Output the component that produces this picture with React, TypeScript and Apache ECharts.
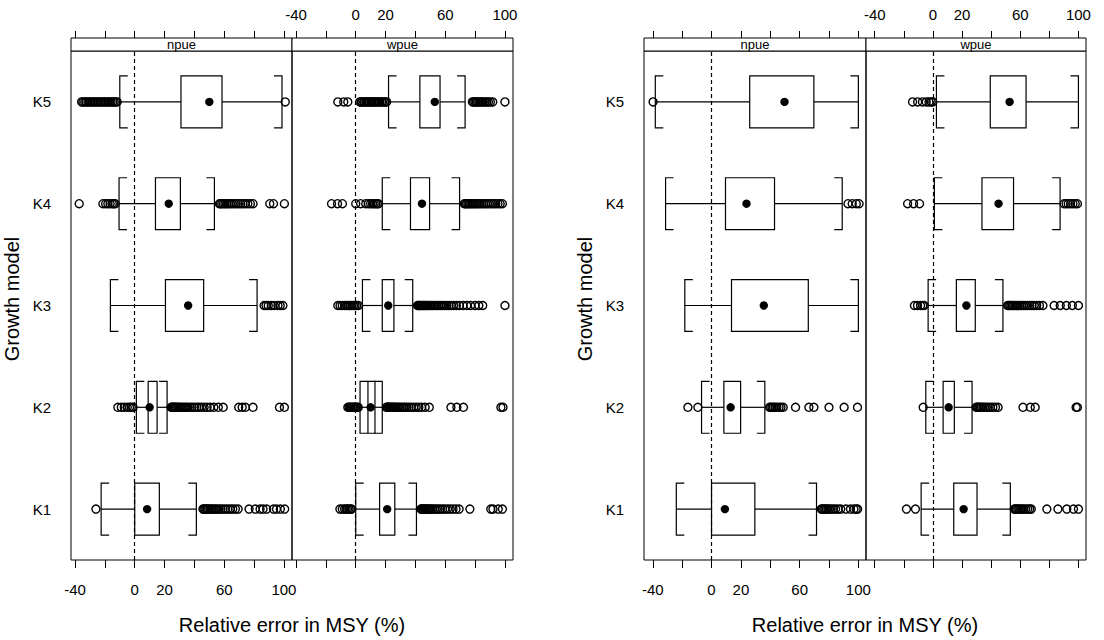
import React, { useEffect, useRef } from "react";
import * as echarts from "echarts";

// ---------------- data ----------------
const categories = ["K1", "K2", "K3", "K4", "K5"];
const panelNames = ["npue", "wpue"];
const tickValues = [-40, -20, 0, 20, 40, 60, 80, 100];
const labelValues = [-40, 0, 20, 60, 100];
const xTitle = "Relative error in MSY (%)";
const yTitle = "Growth model";

// [lower whisker, Q1, median, Q3, upper whisker] for K1..K5
const figA_npue_box = [
  [-22.5, 0, 8.3, 16.5, 41.3],
  [1.1, 9, 10, 15, 21.7],
  [-16.3, 20.6, 35.8, 46.2, 82],
  [-10.5, 13.9, 22.8, 30.6, 53.4],
  [-10, 31, 50, 58.5, 98.7],
];
const figA_npue_out = [
  [-26, 45.7, 46.3, 47, 47.8, 48.6, 49.5, 50.5, 51.5, 52.6, 53.8, 55, 56.3, 57.7, 59.2, 60.8, 62.4, 64, 65.7, 67.5, 69.3, 76.6, 80.8, 84, 86, 88.4, 93, 95, 97.6, 100.5],
  [-11.3, -9, -7, -5, -3.5, -2.3, -1.1, 24.4, 24.9, 25.4, 26, 26.6, 27.2, 28, 28.8, 29.7, 30.6, 31.7, 33, 34.2, 35.5, 37, 38.4, 40, 41.6, 43, 44.7, 46.5, 48.5, 50.5, 53, 56, 59.3, 69.7, 72, 74.2, 79.3, 97, 100.3],
  [86.7, 88, 89.5, 91.5, 93.5, 96, 97.5, 99.3],
  [-37.2, -21.3, -19.5, -18, -16.5, -15, -14, -13, 56.7, 57.5, 58.4, 59.5, 60.5, 61.6, 62.8, 64, 65.3, 66.7, 68, 69.5, 71, 72.5, 74, 75.8, 77.5, 79.3, 90.5, 93, 100.3],
  [-35.6, -34.7, -33.5, -32.6, -31.4, -30.5, -29.3, -28.4, -27.2, -26.3, -25.1, -24.2, -23, -22.1, -20.9, -20, -18.8, -17.9, -16.7, -15.8, -14.6, -13.7, -12.6, -11.8, 100.9],
];
const figA_wpue_box = [
  [0, 16, 21.1, 26.2, 40.7],
  [2.9, 8.2, 10, 12.9, 17.8],
  [4.5, 17.8, 21.8, 25.6, 38.2],
  [17.8, 36.7, 44.4, 49.5, 69.6],
  [22, 43, 53, 56.5, 73.3],
];
const figA_wpue_out = [
  [-10.6, -9, -7.5, -6.5, -5.5, -4.5, -3.5, -2.7, 43.7, 44.2, 44.8, 45.3, 46, 46.6, 47.3, 48, 48.8, 49.7, 50.6, 51.6, 52.8, 54, 55.3, 56.7, 58.2, 59.8, 61.5, 63.3, 65.2, 67.2, 69.3, 76.5, 90.5, 92, 95.5, 98.3],
  [-5.3, -4.5, -3.7, -3, -2.2, -1.5, -0.8, 0, 0.8, 1.7, 20.5, 21, 21.5, 22, 22.6, 23.2, 23.8, 24.5, 25.2, 26, 26.8, 27.7, 28.6, 29.6, 30.7, 31.8, 33, 34.3, 35.7, 37.2, 38.8, 40.5, 42.3, 44.2, 46.5, 49.3, 63.8, 67.8, 72.2, 97.3, 98.7],
  [-12, -10.5, -9, -7.5, -6.2, -5, -3.8, -2.6, -1.5, -0.5, 0.6, 1.8, 41.4, 42, 42.6, 43.2, 43.9, 44.6, 45.3, 46, 46.8, 47.6, 48.5, 49.4, 50.3, 51.3, 52.3, 53.4, 54.5, 55.7, 57, 58.3, 59.6, 61, 62.5, 64, 65.6, 67.4, 69.5, 72, 74.5, 77, 80, 82.5, 85.1, 100],
  [-16.2, -12.2, -8.9, 0, 3.3, 6.7, 8.5, 10, 11.3, 12.4, 13.5, 14.5, 15.3, 72.7, 73.5, 74.3, 75.2, 76.1, 77, 78, 79, 80, 81.1, 82.2, 83.3, 84.5, 85.7, 87, 88.3, 89.6, 91, 92.4, 93.8, 95.3, 96.8, 98.3],
  [-12, -8, -5.3, 2.7, 3.6, 4.2, 5.3, 5.9, 6.8, 7.4, 8.5, 9.1, 10.2, 10.8, 11.9, 12.6, 13.5, 14.3, 15.4, 16.1, 17.2, 18, 19.1, 19.8, 20.7, 78.2, 79, 79.9, 80.8, 81.6, 82.5, 83.4, 84.5, 85.5, 86.7, 87.8, 88.9, 90.2, 91.8, 100],
];
const figB_npue_box = [
  [-24, 0, 9.1, 29.5, 71.5],
  [-6.8, 8.4, 13, 19.8, 36.3],
  [-18.2, 13.6, 35.6, 65.9, 100],
  [-31.3, 9.5, 23.8, 42.9, 89],
  [-38.3, 26, 49.7, 69.7, 100],
];
const figB_npue_out = [
  [74.7, 75.5, 76.4, 77.3, 78.2, 79.2, 80.3, 81.5, 83, 84.5, 86.2, 88, 91.5, 94.6, 97, 98.5, 99.5],
  [-16.1, -9.3, 39.5, 40.3, 41.2, 42.2, 43.3, 44.5, 46, 47.3, 48.8, 57.2, 66.3, 69.7, 80, 90.3, 99.4],
  [],
  [92.9, 95.8, 98.6, 100.5],
  [-39.8],
];
const figB_wpue_box = [
  [-8.1, 14.3, 21.1, 30.3, 53.2],
  [-4.9, 7, 10.8, 14.7, 26.9],
  [-3.3, 16.1, 23, 29.1, 48.1],
  [1, 33.7, 45.1, 55.4, 87.4],
  [2.4, 39.4, 52.7, 64, 100],
];
const figB_wpue_out = [
  [-18.2, -12, 55.9, 56.6, 57.4, 58.3, 59.2, 60.2, 61.3, 62.5, 63.8, 65.2, 66.5, 67.6, 78.3, 85.9, 92, 96.6, 100],
  [-6.7, 29.7, 30.3, 31, 31.7, 32.5, 33.4, 34.4, 35.5, 36.7, 38, 39.5, 41.2, 43, 44.8, 61.9, 66.9, 70.3, 98.4, 99.3],
  [-12.7, -10.6, -8.5, -7, -6, 51.3, 52, 52.8, 53.6, 54.5, 55.4, 56.4, 57.5, 58.6, 59.8, 61, 62.3, 63.6, 65, 66.5, 68, 69.6, 71.3, 73.2, 75.6, 83.3, 87.5, 91.7, 95.8, 100],
  [-17.4, -13.3, -9.2, 90.1, 91.5, 93, 94.6, 96.2, 97.8, 99.3],
  [-14, -10.5, -7.2, -4.6, -2.7, -1.2, -0.1],
];

// ---------------- layout ----------------
const FONT = "'Liberation Sans', Arial, Helvetica, sans-serif";
const GRID_TOP = 51;
const GRID_H = 509;
const STRIP_H = 13;
const LINE_W = 1.2;
const figures = [
  { left: 71, widths: [221, 221], min: -42.7, max: 105.4, boxes: [figA_npue_box, figA_wpue_box], outs: [figA_npue_out, figA_wpue_out] },
  { left: 644, widths: [222, 220], min: -46, max: 105.2, boxes: [figB_npue_box, figB_wpue_box], outs: [figB_npue_out, figB_wpue_out] },
];

function buildOption() {
  const grid: any[] = [];
  const xAxis: any[] = [];
  const yAxis: any[] = [];
  const series: any[] = [];
  const graphic: any[] = [];

  figures.forEach((fig, f) => {
    for (let p = 0; p < 2; p++) {
      const gi = f * 2 + p;
      const left = fig.left + (p === 1 ? fig.widths[0] : 0);
      const width = fig.widths[p];
      grid.push({ left, top: GRID_TOP, width, height: GRID_H, show: true, borderColor: "#000", borderWidth: 1, backgroundColor: "transparent" });
      const common = {
        type: "value",
        gridIndex: gi,
        min: fig.min,
        max: fig.max,
        axisLine: { show: false },
        splitLine: { show: false },
      };
      xAxis.push({
        ...common,
        position: "bottom",
        axisTick: { show: true, inside: false, length: 8, lineStyle: { color: "#000", width: 1 }, customValues: tickValues },
        axisLabel: { show: p === 0, customValues: labelValues, margin: 22, fontSize: 15, color: "#000", fontFamily: FONT },
      });
      xAxis.push({
        ...common,
        position: "top",
        offset: STRIP_H,
        axisTick: { show: true, inside: false, length: 7, lineStyle: { color: "#000", width: 1 }, customValues: tickValues },
        axisLabel: { show: p === 1, customValues: labelValues, margin: 16, fontSize: 15, color: "#000", fontFamily: FONT },
      });
      yAxis.push({
        type: "category",
        gridIndex: gi,
        data: categories,
        axisLine: { show: false },
        axisTick: { show: false },
        splitLine: { show: false },
        axisLabel: { show: p === 0, fontSize: 15, color: "#000", margin: 20, fontFamily: FONT },
      });

      const boxes = fig.boxes[p];
      series.push({
        type: "custom",
        xAxisIndex: gi * 2,
        yAxisIndex: gi,
        data: boxes.map((b, k) => [...b, k]),
        encode: { x: [0, 1, 2, 3, 4], y: 5 },
        z: 3,
        renderItem: (params: any, api: any) => {
          const cat = api.value(5);
          const c = (v: number) => api.coord([v, cat]);
          const [xlo, yc] = c(api.value(0));
          const xq1 = c(api.value(1))[0];
          const xmed = c(api.value(2))[0];
          const xq3 = c(api.value(3))[0];
          const xhi = c(api.value(4))[0];
          const half = api.size([0, 1])[1] * 0.255;
          const t = 8;
          const ls = { stroke: "#000", lineWidth: LINE_W, fill: "none" };
          return {
            type: "group",
            children: [
              { type: "line", shape: { x1: xlo, y1: yc, x2: xq1, y2: yc }, style: ls },
              { type: "line", shape: { x1: xq3, y1: yc, x2: xhi, y2: yc }, style: ls },
              { type: "rect", shape: { x: xq1, y: yc - half, width: xq3 - xq1, height: 2 * half }, style: { stroke: "#000", lineWidth: LINE_W, fill: "#fff" } },
              { type: "polyline", shape: { points: [[xlo + t, yc - half], [xlo, yc - half], [xlo, yc + half], [xlo + t, yc + half]] }, style: ls },
              { type: "polyline", shape: { points: [[xhi - t, yc - half], [xhi, yc - half], [xhi, yc + half], [xhi - t, yc + half]] }, style: ls },
              { type: "circle", shape: { cx: xmed, cy: yc, r: 4.2 }, style: { fill: "#000", stroke: "none" } },
            ],
          };
        },
      });

      const outs = fig.outs[p];
      const pts: number[][] = [];
      outs.forEach((arr, k) => arr.forEach((v) => pts.push([v, k])));
      series.push({
        type: "scatter",
        xAxisIndex: gi * 2,
        yAxisIndex: gi,
        data: pts,
        symbol: "circle",
        symbolSize: 8,
        z: 4,
        itemStyle: { color: "rgba(0,0,0,0)", borderColor: "#000", borderWidth: 1.4, opacity: 1 },
        markLine: {
          silent: true,
          symbol: ["none", "none"],
          label: { show: false },
          lineStyle: { color: "#000", type: [4, 3], width: 1.2 },
          data: [{ xAxis: 0 }],
        },
      });

      // strip
      graphic.push({
        type: "rect",
        shape: { x: left, y: GRID_TOP - STRIP_H, width, height: STRIP_H },
        style: { fill: "#fff", stroke: "#000", lineWidth: 1 },
        z: 10,
      });
      graphic.push({
        type: "text",
        x: left + width / 2,
        y: GRID_TOP - 6.5,
        style: { text: panelNames[p], fontSize: 13, fontFamily: FONT, fill: "#000", align: "center", verticalAlign: "middle" },
        z: 11,
      });
    }
    const totalW = fig.widths[0] + fig.widths[1];
    graphic.push({
      type: "text",
      x: fig.left + totalW / 2,
      y: 625,
      style: { text: xTitle, fontSize: 20, fontFamily: FONT, fill: "#000", align: "center", verticalAlign: "middle" },
    });
    graphic.push({
      type: "text",
      x: fig.left - 59,
      y: (GRID_TOP - STRIP_H + GRID_TOP + GRID_H) / 2,
      rotation: Math.PI / 2,
      style: { text: yTitle, fontSize: 20, fontFamily: FONT, fill: "#000", align: "center", verticalAlign: "middle" },
    });
  });

  return {
    animation: false,
    backgroundColor: "#fff",
    textStyle: { fontFamily: FONT },
    grid,
    xAxis,
    yAxis,
    series,
    graphic,
  };
}

export default function App() {
  const ref = useRef<HTMLDivElement>(null);
  useEffect(() => {
    document.body.style.margin = "0";
    if (!ref.current) return;
    const chart = echarts.init(ref.current, null, { renderer: "svg" });
    chart.setOption(buildOption() as any);
    return () => chart.dispose();
  }, []);
  return <div ref={ref} style={{ width: 1104, height: 640 }} />;
}
